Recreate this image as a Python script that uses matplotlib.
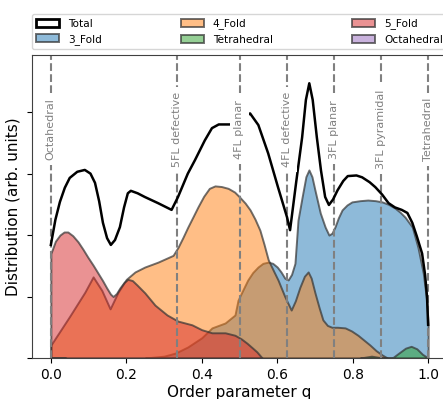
import matplotlib
matplotlib.use("Agg")
import matplotlib.pyplot as plt
from matplotlib.patches import Patch

# ---------------- data ----------------
total_q = [0.0, 0.012, 0.024, 0.037, 0.05, 0.07, 0.09, 0.105, 0.117, 0.128, 0.138, 0.149,
           0.159, 0.17, 0.183, 0.194, 0.204, 0.212, 0.23, 0.249, 0.284, 0.32, 0.337, 0.363,
           0.382, 0.408, 0.427, 0.445, 0.475, 0.50, 0.528, 0.55, 0.576, 0.602, 0.626, 0.634,
           0.65, 0.666, 0.676, 0.685, 0.694, 0.705, 0.716, 0.727, 0.737, 0.748, 0.76, 0.775,
           0.787, 0.81, 0.825, 0.845, 0.86, 0.878, 0.895, 0.912, 0.93, 0.945, 0.958, 0.97,
           0.984, 0.992, 0.997, 1.0]
total_v = [1.84, 2.25, 2.54, 2.77, 2.93, 3.03, 3.06, 3.0, 2.85, 2.55, 2.2, 1.95,
           1.84, 1.92, 2.13, 2.45, 2.68, 2.72, 2.68, 2.62, 2.52, 2.41, 2.62, 3.0,
           3.22, 3.54, 3.74, 3.80, 3.80, 3.86, 3.98, 3.79, 3.33, 2.78, 2.29, 2.08,
           2.85, 3.59, 4.2, 4.47, 4.2, 3.59, 3.05, 2.62, 2.49, 2.58, 2.73, 2.88,
           2.96, 2.97, 2.94, 2.86, 2.78, 2.66, 2.52, 2.45, 2.41, 2.36, 2.2, 1.98,
           1.7, 1.35, 1.0, 0.54]

fold3_q = [0.25, 0.30, 0.33, 0.363, 0.40, 0.427, 0.462, 0.488, 0.496, 0.51, 0.522, 0.535,
           0.549, 0.562, 0.576, 0.588, 0.60, 0.61, 0.62, 0.629, 0.638, 0.647, 0.655, 0.666,
           0.676, 0.684, 0.692, 0.70, 0.714, 0.727, 0.737, 0.745, 0.753, 0.762, 0.772,
           0.785, 0.798, 0.82, 0.84, 0.86, 0.878, 0.895, 0.912, 0.926, 0.939, 0.958, 0.973,
           0.987, 0.997, 1.0]
fold3_v = [0.0, 0.03, 0.08, 0.18, 0.33, 0.49, 0.57, 0.70, 0.94, 1.12, 1.27, 1.39,
           1.48, 1.54, 1.56, 1.54, 1.48, 1.40, 1.30, 1.27, 1.36, 1.54, 2.24, 2.62,
           2.95, 3.06, 2.95, 2.73, 2.36, 2.13, 2.0, 2.03, 2.13, 2.28, 2.41,
           2.49, 2.54, 2.56, 2.57, 2.56, 2.54, 2.50, 2.44, 2.37, 2.29, 2.13, 1.8,
           1.38, 0.89, 0.54]

fold4_q = [0.0, 0.05, 0.09, 0.112, 0.135, 0.157, 0.178, 0.2, 0.223, 0.249, 0.284, 0.324,
           0.337, 0.35, 0.363, 0.377, 0.39, 0.405, 0.42, 0.435, 0.452, 0.47, 0.487, 0.50,
           0.515, 0.528, 0.541, 0.554, 0.565, 0.576, 0.59, 0.602, 0.62, 0.637, 0.648,
           0.66, 0.672, 0.682, 0.69, 0.70, 0.711, 0.721, 0.733, 0.745, 0.76, 0.78, 0.797,
           0.814, 0.83, 0.846, 0.862, 0.878, 0.892]
fold4_v = [0.21, 0.68, 1.07, 1.32, 1.10, 0.80, 1.07, 1.28, 1.40, 1.48, 1.56, 1.67,
           1.80, 1.96, 2.13, 2.30, 2.46, 2.63, 2.76, 2.80, 2.79, 2.76, 2.70, 2.62,
           2.52, 2.41, 2.26, 2.08, 1.85, 1.60, 1.42, 1.27, 1.0, 0.78, 0.93,
           1.15, 1.33, 1.40, 1.30, 1.06, 0.82, 0.62, 0.53, 0.50, 0.50, 0.49, 0.44,
           0.37, 0.29, 0.21, 0.12, 0.05, 0.0]

fold5_q = [0.0, 0.012, 0.024, 0.035, 0.045, 0.058, 0.072, 0.085, 0.098, 0.112, 0.125,
           0.137, 0.148, 0.158, 0.165, 0.174, 0.183, 0.194, 0.204, 0.216, 0.228,
           0.249, 0.276, 0.308, 0.337, 0.374, 0.40, 0.427, 0.462, 0.488, 0.505, 0.52,
           0.535, 0.546, 0.56]
fold5_v = [1.70, 1.90, 2.00, 2.05, 2.05, 1.99, 1.89, 1.77, 1.64, 1.51, 1.38,
           1.26, 1.14, 1.04, 1.0, 1.05, 1.14, 1.23, 1.28, 1.26, 1.19,
           1.06, 0.86, 0.70, 0.60, 0.54, 0.46, 0.41, 0.41, 0.37, 0.31, 0.24,
           0.16, 0.10, 0.0]

tetra_q = [0.82, 0.85, 0.88, 0.905, 0.92, 0.94, 0.955, 0.97, 0.985, 1.0]
tetra_v = [0.0, 0.03, 0.0, 0.0, 0.07, 0.16, 0.19, 0.15, 0.06, 0.0]

octa_q = [0.0, 0.02, 0.04]
octa_v = [0.0, 0.005, 0.0]

line_pos = [0.0, 1 / 3, 0.5, 0.625, 0.75, 0.875, 1.0]
line_labels = ["Octahedral", "5FL defective", "4FL planar", "4FL defective",
               "3FL planar", "3FL pyramidal", "Tetrahedral"]
xticks = [0.0, 0.2, 0.4, 0.6, 0.8, 1.0]

# ---------------- figure ----------------
fig = plt.figure(figsize=(4.43, 3.99), dpi=100)
ax = fig.add_axes([32 / 443, 1 - 358 / 399, (447 - 32) / 443, (358 - 55) / 399])

edge = (0.2, 0.2, 0.2, 0.7)
series = [
    ("3_Fold", fold3_q, fold3_v, "tab:blue"),
    ("4_Fold", fold4_q, fold4_v, "tab:orange"),
    ("Tetrahedral", tetra_q, tetra_v, "tab:green"),
    ("5_Fold", fold5_q, fold5_v, "tab:red"),
    ("Octahedral", octa_q, octa_v, "tab:purple"),
]
for name, q, v, c in series:
    fc = matplotlib.colors.to_rgba(c, 0.5)
    ax.fill_between(q, 0, v, facecolor=fc, edgecolor=edge, linewidth=1.4, zorder=1)

for xp, lab in zip(line_pos, line_labels):
    ax.axvline(xp, color="gray", linestyle="--", linewidth=1.5, zorder=2)
    ax.text(xp, 3.72, lab, rotation=90, ha="center", va="center", fontsize=8,
            color="gray", zorder=4,
            bbox=dict(facecolor="white", edgecolor="none", pad=3.5))

ax.plot(total_q, total_v, color="black", linewidth=1.8, zorder=3)

ax.set_xlim(-0.05, 1.05)
ax.set_ylim(0, 4.93)
ax.set_xticks(xticks)
ax.set_xticklabels([f"{t:.1f}" for t in xticks], fontsize=10)
ax.set_yticks([0, 1, 2, 3, 4])
ax.set_yticklabels([])
ax.set_xlabel("Order parameter q", fontsize=11, labelpad=2)
ax.set_ylabel("Distribution (arb. units)", fontsize=11, labelpad=1)
for s in ax.spines.values():
    s.set_color("0.25")

handles = [Patch(facecolor="white", edgecolor="black", linewidth=2, label="Total")]
for name, q, v, c in series:
    handles.append(Patch(facecolor=matplotlib.colors.to_rgba(c, 0.5),
                         edgecolor=edge, linewidth=1.4, label=name))
ax.legend(handles=handles, ncol=3, mode="expand",
          loc="lower left", bbox_to_anchor=(0, 1.02, 1, 0.1), fontsize=7.6,
          borderaxespad=0.0, frameon=True, handlelength=2.2)

fig.savefig("out.png", dpi=100)
